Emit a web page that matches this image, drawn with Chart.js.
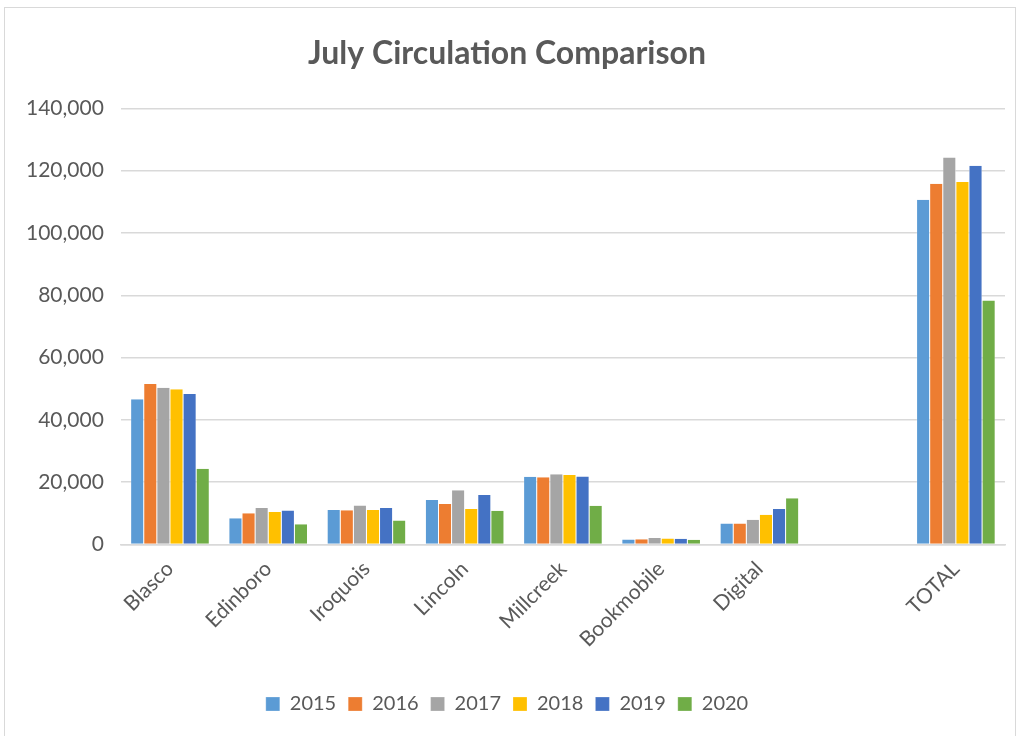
<!DOCTYPE html>
<html>
<head>
<meta charset="utf-8">
<script src="https://cdn.jsdelivr.net/npm/chart.js@4.4.1/dist/chart.umd.min.js"></script>
<style>
	html, body { margin: 0; padding: 0; background: #fff; }
	#wrap {
		position: absolute; left: 4px; top: 7px;
		width: 1012px; height: 735px;
		border: 1px solid #d9d9d9; box-sizing: border-box;
	}
	canvas { display: block; }
</style>
</head>
<body>
<div id="wrap"><canvas id="circChart"></canvas></div>
<script>
// July circulation per branch
const branches = ['Blasco', 'Edinboro', 'Iroquois', 'Lincoln', 'Millcreek', 'Bookmobile', 'Digital', '', 'TOTAL'];
const years = ['2015', '2016', '2017', '2018', '2019', '2020'];
const yearColors = ['#5b9bd5', '#ed7d31', '#a5a5a5', '#ffc000', '#4472c4', '#70ad47'];

const circ2015 = [46600, 8400, 11100, 14300, 21700, 1600, 6700, null, 110700];
const circ2016 = [51500, 10000, 11000, 13000, 21600, 1700, 6700, null, 115800];
const circ2017 = [50300, 11700, 12500, 17400, 22500, 2100, 7900, null, 124200];
const circ2018 = [49800, 10400, 11100, 11400, 22300, 1900, 9500, null, 116400];
const circ2019 = [48300, 10900, 11700, 15900, 21800, 1800, 11400, null, 121600];
const circ2020 = [24300, 6500, 7700, 10800, 12400, 1500, 14800, null, 78300];
const seriesValues = [circ2015, circ2016, circ2017, circ2018, circ2019, circ2020];

const yTickMax = 140000;
const yTickStep = 20000;

const textColor = '#595959';
const gridColor = '#d9d9d9';
const fontFamily = 'Lato, "Open Sans", sans-serif';

document.addEventListener('DOMContentLoaded', () => {
	const canvas = document.getElementById('circChart');
	canvas.width = 1010;
	canvas.height = 727;
	const ctx = canvas.getContext('2d');

	new Chart(ctx, {
		type: 'bar',
		data: {
			labels: branches,
			datasets: years.map((yr, i) => ({
				label: yr,
				data: seriesValues[i],
				backgroundColor: yearColors[i],
				borderColor: '#ffffff',
				borderWidth: { left: 0.5, right: 0.5, top: 0, bottom: 0 },
				barPercentage: 1,
				categoryPercentage: 0.8
			}))
		},
		options: {
			responsive: false,
			animation: false,
			devicePixelRatio: 1,
			layout: { padding: { left: 4, right: 10, top: 26, bottom: 11 } },
			plugins: {
				title: {
					display: true,
					text: 'July Circulation Comparison',
					color: textColor,
					font: { family: fontFamily, size: 32, weight: 'bold' },
					padding: { top: 0, bottom: 36 }
				},
				legend: {
					position: 'bottom',
					labels: {
						color: textColor,
						font: { family: fontFamily, size: 20 },
						boxWidth: 14,
						boxHeight: 14,
						padding: 12
					}
				},
				tooltip: { enabled: false }
			},
			scales: {
				y: {
					min: 0,
					max: yTickMax,
					ticks: {
						stepSize: yTickStep,
						color: textColor,
						font: { family: fontFamily, size: 21 },
						padding: 17,
						callback: v => v.toLocaleString('en-US')
					},
					grid: { color: gridColor, lineWidth: 1.5, drawTicks: false },
					border: { display: false }
				},
				x: {
					// extra room under the rotated labels, as in the original
					afterFit: scale => { scale.height += 26; },
					ticks: {
						color: textColor,
						font: { family: fontFamily, size: 21 },
						maxRotation: 45,
						minRotation: 45,
						padding: 4
					},
					grid: { display: false },
					border: { color: gridColor, width: 1.5 }
				}
			}
		}
	});
});
</script>
</body>
</html>
